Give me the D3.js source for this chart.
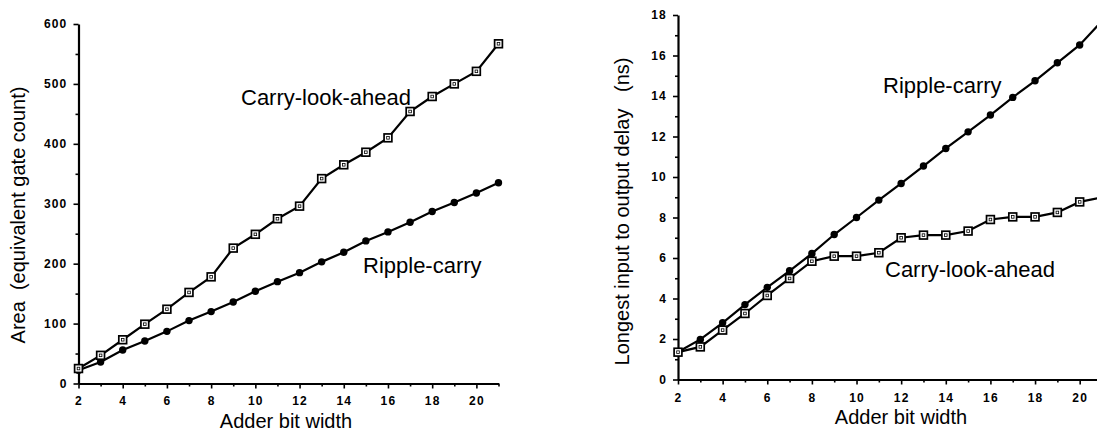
<!DOCTYPE html>
<html><head><meta charset="utf-8">
<script src="https://cdn.jsdelivr.net/npm/d3@7"></script>
<style>
body{margin:0;background:#fff}
svg{display:block}
text{font-family:"Liberation Sans",Arial,Helvetica,sans-serif;fill:#000}
</style>
</head><body>
<svg id="c" width="1097" height="435"></svg>
<script>
// ---- data ----
const bitWidths   = [2,3,4,5,6,7,8,9,10,11,12,13,14,15,16,17,18,19,20,21];
const areaCLA     = [25,47,73,99,124,152,178,226,249,275,296,342,365,386,410,454,479,500,521,567];
const areaRipple  = [22,36,56,71,87,105,120,136,154,170,185,203,219,238,253,269,287,302,318,335];
const delayCLA    = [1.35,1.61,2.44,3.26,4.15,4.99,5.84,6.09,6.09,6.26,7.0,7.13,7.13,7.33,7.9,8.03,8.03,8.25,8.77,9.0];
const delayRipple = [1.36,1.98,2.8,3.7,4.55,5.37,6.22,7.16,8.0,8.86,9.68,10.54,11.41,12.23,13.06,13.93,14.75,15.64,16.52,17.7];
const areaTicks   = [0,100,200,300,400,500,600];
const areaMinor   = [50,150,250,350,450,550];
const delayTicks  = [0,2,4,6,8,10,12,14,16,18];
const delayMinor  = [1,3,5,7,9,11,13,15,17];
const bitTicks    = [2,4,6,8,10,12,14,16,18,20];
const bitMinor    = [3,5,7,9,11,13,15,17,19,21];
const xTitle = "Adder bit width";
const yTitleArea = "Area  (equivalent gate count)";
const yTitleDelay = "Longest input to output delay   (ns)";
const labelCLA = "Carry-look-ahead";
const labelRipple = "Ripple-carry";

const svg = d3.select("#c");

function panel(cfg){
  const x = d3.scaleLinear().domain([2,21]).range(cfg.xr);
  const y = d3.scaleLinear().domain(cfg.yd).range(cfg.yr);
  const g = svg.append("g");
  const x0 = cfg.xr[0], y0 = cfg.yr[0];

  // y axis
  g.append("g").attr("transform",`translate(${x0},0)`)
    .call(d3.axisLeft(y).tickValues(cfg.yTicks).tickSize(5).tickPadding(6).tickSizeOuter(0));
  g.append("g").attr("transform",`translate(${x0},0)`)
    .call(d3.axisLeft(y).tickValues(cfg.yMinor).tickSize(3).tickFormat("").tickSizeOuter(0))
    .select(".domain").remove();
  // x axis
  g.append("g").attr("transform",`translate(0,${y0})`)
    .call(d3.axisBottom(x).tickValues(bitTicks).tickSize(5).tickPadding(cfg.xPad).tickSizeOuter(0));
  g.append("g").attr("transform",`translate(0,${y0})`)
    .call(d3.axisBottom(x).tickValues(bitMinor).tickSize(3).tickFormat("").tickSizeOuter(0))
    .select(".domain").remove();

  g.selectAll(".domain").attr("stroke","#000").attr("stroke-width",2.2);
  g.selectAll(".tick line").attr("stroke","#000").attr("stroke-width",1.6);
  g.selectAll(".tick text").attr("font-size",12).attr("font-weight","bold")
    .attr("letter-spacing","1.2px").attr("font-family",'"Liberation Sans",Arial,sans-serif').attr("fill","#000");

  // lines
  const line = d3.line().x((d,i)=>x(bitWidths[i])).y(d=>y(d));
  g.append("path").datum(cfg.cla).attr("d",line).attr("fill","none").attr("stroke","#000").attr("stroke-width",2.2);
  g.append("path").datum(cfg.rip).attr("d",line).attr("fill","none").attr("stroke","#000").attr("stroke-width",2.2);

  // ripple markers
  g.selectAll(".rp").data(cfg.rip).join("circle")
    .attr("cx",(d,i)=>x(bitWidths[i])).attr("cy",d=>y(d)).attr("r",3.7).attr("fill","#000");
  // CLA markers
  const sq = g.selectAll(".sq").data(cfg.cla).join("g")
    .attr("transform",(d,i)=>`translate(${x(bitWidths[i])},${y(d)})`);
  sq.append("rect").attr("x",-3.9).attr("y",-3.9).attr("width",7.8).attr("height",7.8)
    .attr("fill","#fff").attr("stroke","#000").attr("stroke-width",1.7);
  sq.append("rect").attr("x",-1.3).attr("y",-1.3).attr("width",2.6).attr("height",2.6)
    .attr("fill","none").attr("stroke","#000").attr("stroke-width",0.8);

  // titles
  g.append("text").attr("x",cfg.xtPos[0]).attr("y",cfg.xtPos[1]).attr("text-anchor","middle")
    .attr("font-size",20).text(xTitle);
  g.append("text").attr("transform",`translate(${cfg.ytPos[0]},${cfg.ytPos[1]}) rotate(-90)`)
    .attr("text-anchor","middle").attr("font-size",20).style("white-space","pre").text(cfg.yTitle);

  // annotations
  g.append("text").attr("x",cfg.claLab[0]).attr("y",cfg.claLab[1]).attr("font-size",22).text(labelCLA);
  g.append("text").attr("x",cfg.ripLab[0]).attr("y",cfg.ripLab[1]).attr("font-size",22).text(labelRipple);
}

panel({
  xr:[78.5,498.5], yd:[0,600], yr:[383.5,24], xPad:8,
  yTicks:areaTicks, yMinor:areaMinor,
  cla:areaCLA, rip:areaRipple,
  xtPos:[286,428], ytPos:[25,215], yTitle:yTitleArea,
  claLab:[241,105], ripLab:[363,273]
});
panel({
  xr:[678,1102], yd:[0,18], yr:[379.5,15], xPad:9,
  yTicks:delayTicks, yMinor:delayMinor,
  cla:delayCLA, rip:delayRipple,
  xtPos:[901,424], ytPos:[629,211.5], yTitle:yTitleDelay,
  claLab:[885,277], ripLab:[883,93]
});
</script>
</body></html>
